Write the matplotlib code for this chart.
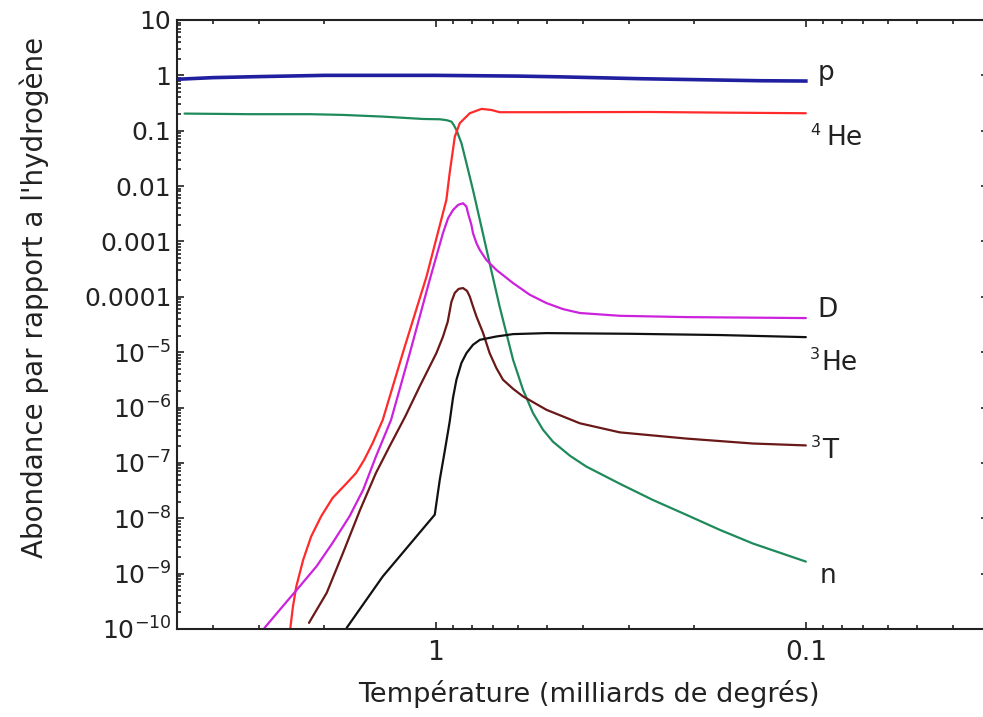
import numpy as np
import matplotlib
matplotlib.use("Agg")
import matplotlib.pyplot as plt
from matplotlib.ticker import FixedLocator, FixedFormatter, NullFormatter

plt.rcParams['font.family'] = ['DejaVu Sans']
plt.rcParams['mathtext.fontset'] = 'dejavusans'

# ---- data (temperature in billions of degrees, abundance relative to hydrogen)
p_T = [5.0, 4.0, 3.0, 2.0, 1.0, 0.6, 0.46, 0.28, 0.133, 0.1]
p_v = [0.85, 0.91, 0.95, 1.0, 1.0, 0.97, 0.94, 0.87, 0.80, 0.79]

n_T = [4.77, 3.18, 2.19, 1.78, 1.39, 1.08, 0.975, 0.934, 0.907, 0.894, 0.879,
       0.852, 0.826, 0.793, 0.760, 0.715, 0.672, 0.618, 0.581, 0.546, 0.513,
       0.482, 0.434, 0.392, 0.318, 0.259, 0.210, 0.171, 0.139, 0.1]
n_v = [0.204, 0.199, 0.199, 0.193, 0.180, 0.163, 0.161, 0.155, 0.146, 0.127,
       0.103, 0.0595, 0.0259, 8.5e-3, 2.45e-3, 4.05e-4, 6.7e-5, 7.3e-6, 2.1e-6,
       7.96e-7, 3.97e-7, 2.41e-7, 1.35e-7, 8.6e-8, 4.2e-8, 2.14e-8, 1.15e-8,
       6.2e-9, 3.5e-9, 1.65e-9]

he4_T = [2.47, 2.43, 2.38, 2.28, 2.17, 2.04, 1.90, 1.74, 1.64, 1.56, 1.48,
         1.39, 1.22, 1.059, 0.936, 0.917, 0.888, 0.861, 0.809, 0.752, 0.707,
         0.672, 0.524, 0.264, 0.164, 0.1]
he4_v = [1.05e-10, 2.57e-10, 5.9e-10, 1.79e-9, 4.7e-9, 1.08e-8, 2.32e-8,
         4.3e-8, 6.6e-8, 1.14e-7, 2.29e-7, 6.0e-7, 1.1e-5, 2.32e-4, 5.6e-3,
         0.0171, 0.078, 0.137, 0.207, 0.248, 0.237, 0.216, 0.216, 0.218,
         0.212, 0.207]

d_T = [2.90, 2.59, 2.33, 2.10, 1.90, 1.71, 1.57, 1.45, 1.32, 1.175, 1.038,
       0.956, 0.926, 0.898, 0.870, 0.844, 0.826, 0.818, 0.801, 0.793, 0.776,
       0.760, 0.730, 0.686, 0.618, 0.557, 0.502, 0.453, 0.408, 0.318, 0.210,
       0.1]
d_v = [1.05e-10, 2.57e-10, 5.9e-10, 1.35e-9, 3.58e-9, 1.08e-8, 3.28e-8,
       1.31e-7, 6.0e-7, 9.6e-6, 2.03e-4, 1.41e-3, 2.63e-3, 3.7e-3, 4.58e-3,
       4.9e-3, 4.27e-3, 3.24e-3, 2.0e-3, 1.41e-3, 9.3e-4, 7.0e-4, 4.65e-4,
       3.07e-4, 1.77e-4, 1.09e-4, 7.7e-5, 6.0e-5, 5.1e-5, 4.54e-5, 4.3e-5,
       4.13e-5]

t_T = [2.20, 1.97, 1.78, 1.60, 1.45, 1.33, 1.21, 1.105, 0.996, 0.956, 0.928,
       0.907, 0.888, 0.867, 0.844, 0.823, 0.809, 0.793, 0.776, 0.745, 0.715,
       0.686, 0.658, 0.618, 0.581, 0.502, 0.408, 0.318, 0.210, 0.139, 0.1]
t_v = [1.29e-10, 4.5e-10, 2.37e-9, 1.43e-8, 6.6e-8, 2.04e-7, 6.8e-7, 2.4e-6,
       9.6e-6, 1.90e-5, 3.54e-5, 8.1e-5, 1.18e-4, 1.39e-4, 1.44e-4, 1.28e-4,
       1.01e-4, 6.7e-5, 4.4e-5, 2.24e-5, 9.6e-6, 5.2e-6, 3.18e-6, 2.18e-6,
       1.59e-6, 9.1e-7, 5.2e-7, 3.56e-7, 2.75e-7, 2.24e-7, 2.07e-7]

he3_T = [1.74, 1.39, 1.006, 0.975, 0.946, 0.917, 0.898, 0.879, 0.852, 0.826,
         0.793, 0.760, 0.686, 0.618, 0.502, 0.299, 0.171, 0.1]
he3_v = [1.05e-10, 8.9e-10, 1.16e-8, 4.98e-8, 1.59e-7, 5.5e-7, 1.50e-6,
         3.18e-6, 6.4e-6, 9.6e-6, 1.36e-5, 1.67e-5, 1.92e-5, 2.12e-5, 2.21e-5,
         2.15e-5, 2.04e-5, 1.87e-5]

y_ticks = [10, 1, 0.1, 0.01, 1e-3, 1e-4, 1e-5, 1e-6, 1e-7, 1e-8, 1e-9, 1e-10]
y_labels = ['10', '1', '0.1', '0.01', '0.001', '0.0001', r'$10^{-5}$',
            r'$10^{-6}$', r'$10^{-7}$', r'$10^{-8}$', r'$10^{-9}$', r'$10^{-10}$']
x_ticks = [1, 0.1]
x_labels = ['1', '0.1']

# ---- figure
W, H = 983, 717
fig = plt.figure(figsize=(W / 100, H / 100), dpi=100)
ax = fig.add_axes([177 / W, (H - 629) / H, (988 - 177) / W, 609 / H])
ax.set_xscale('log')
ax.set_yscale('log')

kw = dict(lw=1.6, solid_joinstyle='round', solid_capstyle='round')
ax.plot(n_T, n_v, color='#1e8a5c', **kw)
ax.plot(he4_T, he4_v, color='#ff2a2a', **kw)
ax.plot(d_T, d_v, color='#cc22dd', **kw)
ax.plot(t_T, t_v, color='#6a1818', **kw)
ax.plot(he3_T, he3_v, color='#111111', **kw)
ax.plot(p_T, p_v, color='#1f1fa0', lw=2.6, solid_joinstyle='round')

ax.set_xlim(5.0, 0.0322)
ax.set_ylim(1e-10, 10)

ax.xaxis.set_major_locator(FixedLocator(x_ticks))
ax.xaxis.set_major_formatter(FixedFormatter(x_labels))
minor_x = [4, 3, 2, 0.9, 0.8, 0.7, 0.6, 0.5, 0.4, 0.3, 0.2,
           0.09, 0.08, 0.07, 0.06, 0.05, 0.04]
ax.xaxis.set_minor_locator(FixedLocator(minor_x))
ax.xaxis.set_minor_formatter(NullFormatter())

ax.yaxis.set_major_locator(FixedLocator(y_ticks))
ax.yaxis.set_major_formatter(FixedFormatter(y_labels))
minor_y = [m * 10.0 ** e for e in range(-10, 1) for m in range(2, 10)]
ax.yaxis.set_minor_locator(FixedLocator(minor_y))
ax.yaxis.set_minor_formatter(NullFormatter())

ax.tick_params(which='both', direction='in', top=True, right=True,
               color='#222222', width=1.2)
ax.tick_params(which='major', length=5)
ax.tick_params(which='minor', length=3)
ax.tick_params(axis='y', which='major', labelsize=18, pad=4, labelcolor='#222222')
ax.tick_params(axis='x', which='major', labelsize=19, pad=8, labelcolor='#222222')
for s in ax.spines.values():
    s.set_linewidth(1.5)
    s.set_color('#222222')

ax.set_xlabel('Température (milliards de degrés)', fontsize=19.5,
              color='#222222')
ax.xaxis.set_label_coords(0.508, -0.084)
ax.set_ylabel("Abondance par rapport a l'hydrogène", fontsize=20,
              color='#222222')
ax.yaxis.set_label_coords(-0.158, 0.544)

# curve labels
lab = dict(fontsize=19, color='#222222', va='baseline', ha='left')
sup = dict(fontsize=11.5, color='#222222', va='baseline', ha='left')
ax.text(0.0929, 0.826, 'p', **lab)
ax.text(0.0975, 0.082, '4', **sup)
ax.text(0.0879, 0.0554, 'He', **lab)
ax.text(0.0929, 4.36e-5, 'D', **lab)
ax.text(0.0978, 7.6e-6, '3', **sup)
ax.text(0.0910, 4.8e-6, 'He', **lab)
ax.text(0.0968, 1.9e-7, '3', **sup)
ax.text(0.0902, 1.24e-7, 'T', **lab)
ax.text(0.0916, 6.9e-10, 'n', **lab)

fig.savefig('out.png', dpi=100)
